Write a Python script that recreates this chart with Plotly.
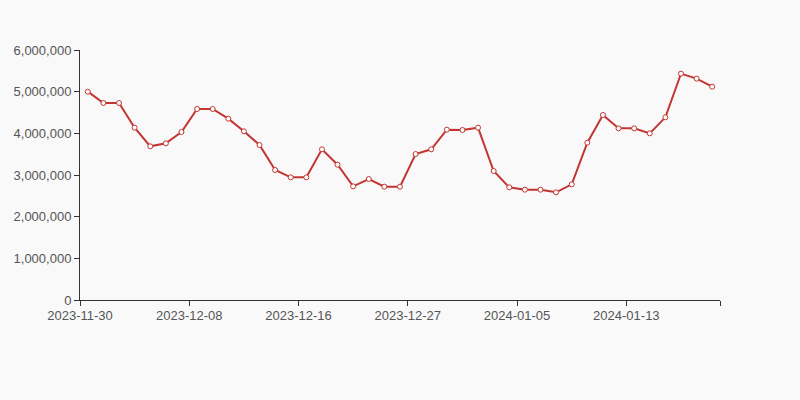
import plotly.graph_objects as go

dates = [
    "2023-11-30", "2023-12-01", "2023-12-02", "2023-12-04", "2023-12-05", "2023-12-06",
    "2023-12-07", "2023-12-08", "2023-12-09", "2023-12-11", "2023-12-12", "2023-12-13",
    "2023-12-14", "2023-12-15", "2023-12-16", "2023-12-18", "2023-12-19", "2023-12-20",
    "2023-12-21", "2023-12-22", "2023-12-25", "2023-12-27", "2023-12-28", "2023-12-29",
    "2023-12-30", "2024-01-01", "2024-01-02", "2024-01-03", "2024-01-05", "2024-01-06",
    "2024-01-08", "2024-01-09", "2024-01-10", "2024-01-11", "2024-01-12", "2024-01-13",
    "2024-01-15", "2024-01-16", "2024-01-17", "2024-01-18", "2024-01-19",
]
values = [
    5000000, 4728000, 4728000, 4136000, 3688000, 3760000, 4032000, 4584000, 4584000,
    4352000, 4048000, 3720000, 3120000, 2944000, 2944000, 3616000, 3248000, 2728000,
    2904000, 2720000, 2720000, 3504000, 3616000, 4088000, 4080000, 4136000, 3096000,
    2704000, 2648000, 2648000, 2584000, 2776000, 3776000, 4440000, 4120000, 4120000,
    4000000, 4384000, 5432000, 5312000, 5120000,
]
label_idx = [0, 7, 14, 21, 28, 35]
y_ticks = [0, 1000000, 2000000, 3000000, 4000000, 5000000, 6000000]

xs = list(range(len(dates)))
tickvals = [i - 0.5 for i in label_idx] + [len(dates) - 0.5]
ticktext = [dates[i] for i in label_idx] + [""]

fig = go.Figure()
fig.add_trace(go.Scatter(
    x=xs, y=values, mode="lines+markers",
    line=dict(color="#c23531", width=2),
    marker=dict(size=5, color="#ffffff", line=dict(color="#c23531", width=1)),
    text=dates, hoverinfo="text+y",
))

fig.update_layout(
    width=800, height=400,
    margin=dict(l=80, r=80, t=50, b=100),
    paper_bgcolor="#f9f9f9", plot_bgcolor="#f9f9f9",
    font=dict(family="Liberation Sans, Arial, sans-serif", size=13, color="#555555"),
    showlegend=False,
    xaxis=dict(
        range=[-0.5, len(dates) - 0.5], tickmode="array",
        tickvals=tickvals, ticktext=ticktext,
        showgrid=False, zeroline=False, showline=True, linecolor="#333333", linewidth=1,
        ticks="outside", ticklen=5, tickcolor="#333333",
        ticklabelstandoff=-2,
        tickfont=dict(size=13, color="#555555"),
    ),
    yaxis=dict(
        range=[0, 6000000], tickmode="array", tickvals=y_ticks,
        ticktext=[f"{v:,}" for v in y_ticks],
        showgrid=False, zeroline=False, showline=True, linecolor="#333333", linewidth=1,
        ticks="outside", ticklen=5, tickcolor="#333333",
        tickfont=dict(size=13, color="#555555"),
    ),
)

fig.write_html(
    "out.html",
    config={"displayModeBar": False},
    post_script="document.body.style.margin='0';document.body.style.background='#f9f9f9';",
)
